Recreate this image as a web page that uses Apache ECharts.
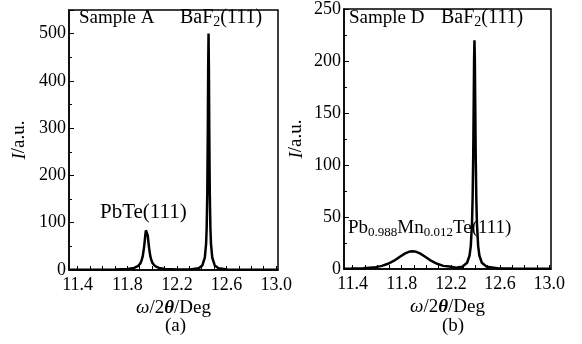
<!DOCTYPE html>
<html>
<head>
<meta charset="utf-8">
<script src="https://cdn.jsdelivr.net/npm/echarts@6/dist/echarts.min.js"></script>
<style>
  html, body { margin: 0; padding: 0; background: #fff; }
  #chart { width: 582px; height: 344px; }
</style>
</head>
<body>
<div id="chart"></div>
<script>
// panel (a): Sample A, omega/2theta scan
const xA = [11.33, 11.5, 11.6, 11.705, 11.805, 11.855, 11.885, 11.905, 11.915, 11.925, 11.935, 11.94,
  11.945, 11.95, 11.955, 11.96, 11.965, 11.97, 11.975, 11.985, 11.995, 12.005, 12.025, 12.055, 12.105,
  12.205, 12.305, 12.375, 12.405, 12.425, 12.435, 12.44, 12.445, 12.449, 12.452, 12.455, 12.458, 12.461,
  12.465, 12.47, 12.475, 12.485, 12.505, 12.535, 12.605, 12.7, 12.8, 12.9, 13.015];
const yA = [0.3, 0.5, 0.7, 0.8, 2.0, 4.3, 8, 14, 20, 30, 48, 60,
  73, 84, 88, 84, 73, 60, 48, 30, 20, 14, 8, 4.3, 2,
  0.9, 1.1, 3.8, 9.6, 26, 54, 89, 164, 289, 423, 500, 423, 289,
  164, 89, 54, 26, 9.6, 3.8, 1.1, 0.6, 0.4, 0.3, 0.3];

// panel (b): Sample D
const xD = [11.33, 11.388, 11.488, 11.588, 11.638, 11.688, 11.738, 11.788, 11.828, 11.858, 11.888, 11.918,
  11.948, 11.988, 12.038, 12.088, 12.138, 12.188, 12.242, 12.292, 12.332, 12.352, 12.362, 12.372, 12.377,
  12.382, 12.386, 12.389, 12.392, 12.395, 12.398, 12.402, 12.407, 12.412, 12.422, 12.432, 12.452, 12.492,
  12.592, 12.7, 12.8, 12.9, 13.015];
const yD = [0.3, 0.4, 0.8, 1.8, 3, 5, 8, 12, 15, 16.5, 17, 16.5,
  15, 12, 8, 5, 3, 2.3, 1.3, 2.2, 6, 13, 22, 44, 68,
  110, 162, 202, 220, 202, 162, 110, 68, 44, 22, 13, 6, 2.2,
  0.6, 0.4, 0.3, 0.2, 0.2];

const xRange = [11.33, 13.015];
const xLabelValues = [11.4, 11.8, 12.2, 12.6, 13.0];
const xTickValues = [11.4, 11.5, 11.6, 11.7, 11.8, 11.9, 12.0, 12.1, 12.2, 12.3, 12.4, 12.5, 12.6, 12.7, 12.8, 12.9, 13.0];
const yMaxA = 550, yStepA = 100;
const yMaxD = 250, yStepD = 50;

const serif = "'Liberation Serif', 'DejaVu Serif', serif";

function toPairs(xs, ys) {
  return xs.map((x, i) => [x, ys[i]]);
}

function xAxisFor(gridIndex) {
  return {
    type: 'value', gridIndex,
    min: xRange[0], max: xRange[1],
    name: '{i|ω}/2{b|θ}/Deg', nameLocation: 'middle', nameGap: 19,
    nameTextStyle: {
      fontFamily: serif, fontSize: 19, color: '#000',
      rich: {
        i: { fontFamily: serif, fontSize: 19, fontStyle: 'italic', color: '#000' },
        b: { fontFamily: serif, fontSize: 19, fontStyle: 'italic', fontWeight: 'bold', color: '#000' }
      }
    },
    axisLine: { lineStyle: { color: '#000', width: 1.5 } },
    axisTick: { inside: true, length: 4, customValues: xTickValues, lineStyle: { color: '#000' } },
    axisLabel: {
      fontFamily: serif, fontSize: 18, color: '#000', margin: 6,
      customValues: xLabelValues, formatter: v => v.toFixed(1)
    },
    splitLine: { show: false }
  };
}

function yAxisFor(gridIndex, max, step, gap) {
  return {
    type: 'value', gridIndex,
    min: 0, max, interval: step,
    name: '{i|I}/a.u.', nameLocation: 'middle', nameGap: gap, nameRotate: 90,
    nameTextStyle: {
      fontFamily: serif, fontSize: 19, color: '#000',
      rich: { i: { fontFamily: serif, fontSize: 19, fontStyle: 'italic', color: '#000' } }
    },
    axisLine: { lineStyle: { color: '#000', width: 1.5 } },
    axisTick: { inside: true, length: 5, lineStyle: { color: '#000' } },
    minorTick: { show: true, splitNumber: 2, length: 3, lineStyle: { color: '#000' } },
    axisLabel: {
      fontFamily: serif, fontSize: 18, color: '#000', margin: 3,
      formatter: v => (v > max - step / 2 && max % step !== 0 ? '' : String(v))
    },
    splitLine: { show: false }
  };
}

const txt = (left, top, text, size, sub) => ({
  type: 'text', left, top,
  style: {
    text, fill: '#000', font: `${size || 19}px ${serif}`,
    rich: {
      s: { fontFamily: serif, fontSize: sub || 12, verticalAlign: 'bottom', padding: [8, 0, 0, 0], fill: '#000' },
      n: { fontFamily: serif, fontSize: size || 19, fill: '#000' }
    }
  }
});

const chart = echarts.init(document.getElementById('chart'));
chart.setOption({
  animation: false,
  grid: [
    { left: 69, right: 304, top: 10, bottom: 74, show: true, borderColor: '#000', borderWidth: 1.5 },
    { left: 344, right: 31, top: 8, bottom: 75, show: true, borderColor: '#000', borderWidth: 1.5 }
  ],
  xAxis: [xAxisFor(0), xAxisFor(1)],
  yAxis: [yAxisFor(0, yMaxA, yStepA, 40), yAxisFor(1, yMaxD, yStepD, 38)],
  series: [
    {
      type: 'line', xAxisIndex: 0, yAxisIndex: 0, data: toPairs(xA, yA),
      showSymbol: false, lineStyle: { color: '#000', width: 2.5 }
    },
    {
      type: 'line', xAxisIndex: 1, yAxisIndex: 1, data: toPairs(xD, yD),
      showSymbol: false, lineStyle: { color: '#000', width: 2.5 }
    }
  ],
  graphic: [
    txt(79, 9, 'Sample A'),
    txt(180, 8, '{n|BaF}{s|2}{n|(111)}', 20, 14),
    txt(100, 202, 'PbTe(111)', 21),
    txt(349, 9, 'Sample D'),
    txt(441, 8, '{n|BaF}{s|2}{n|(111)}', 20, 14),
    txt(348, 219, '{n|Pb}{s|0.988}{n|Mn}{s|0.012}{n|Te(111)}', 19, 13),
    txt(165, 317, '(a)'),
    txt(442, 317, '(b)')
  ]
});
</script>
</body>
</html>
